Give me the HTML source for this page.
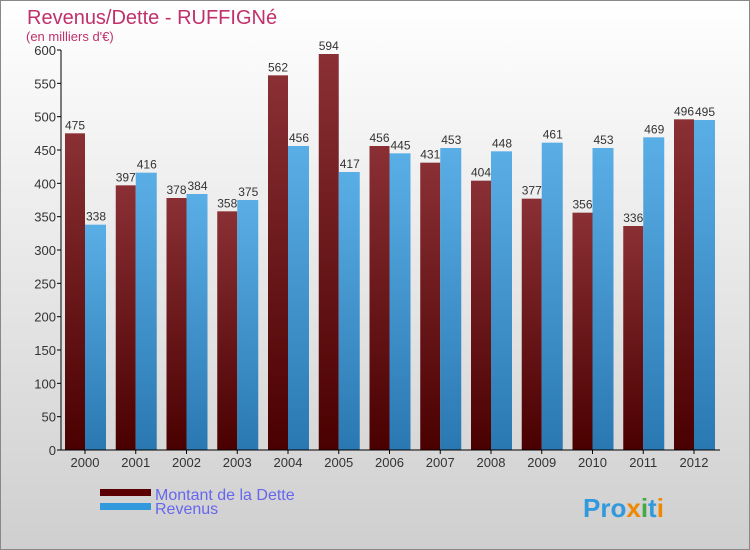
<!DOCTYPE html>
<html><head><meta charset="utf-8"><style>
body{margin:0}
#c{position:relative;width:750px;height:550px;overflow:hidden;font-family:"Liberation Sans",sans-serif}
</style></head><body>
<div id="c">
<svg id="s" width="750" height="550" xmlns="http://www.w3.org/2000/svg">
<defs>
<linearGradient id="bg" x1="0" y1="0" x2="0" y2="1"><stop offset="0" stop-color="#ffffff"/><stop offset="1" stop-color="#cfcfcf"/></linearGradient>
<linearGradient id="gd" x1="0" y1="0" x2="0" y2="1"><stop offset="0" stop-color="#8a3035"/><stop offset="1" stop-color="#4a0000"/></linearGradient>
<linearGradient id="gb" x1="0" y1="0" x2="0" y2="1"><stop offset="0" stop-color="#5aaee6"/><stop offset="1" stop-color="#2a78b2"/></linearGradient>
</defs>
<rect x="0.5" y="0.5" width="749" height="549" fill="url(#bg)" stroke="#888"/>
<text x="27" y="24" font-size="20" fill="#c0306a">Revenus/Dette - RUFFIGNé</text>
<text x="26" y="41" font-size="13" fill="#c0306a">(en milliers d'€)</text>
<g id="plot"></g>
<rect x="100" y="489" width="51" height="7" fill="#5a0000"/>
<text x="155" y="500" font-size="16" fill="#6666ee">Montant de la Dette</text>
<rect x="100" y="503" width="51" height="7" fill="#3399dd"/>
<text x="155" y="514" font-size="16" fill="#6666ee">Revenus</text>
<text x="583" y="517" font-size="26" font-weight="bold" fill="#3399dd">Pro<tspan fill="#ee8800">x</tspan><tspan fill="#44aa44">i</tspan>t<tspan fill="#ee8800">i</tspan></text>
</svg>
</div>
<script>
const years=["2000","2001","2002","2003","2004","2005","2006","2007","2008","2009","2010","2011","2012"];
const dette=[475,397,378,358,562,594,456,431,404,377,356,336,496];
const revenus=[338,416,384,375,456,417,445,453,448,461,453,469,495];
const yTicks=[0,50,100,150,200,250,300,350,400,450,500,550,600];
const NS="http://www.w3.org/2000/svg";
const g=document.getElementById('plot');
const y0=450,ky=400/600,x0=64,gw=50.75,bw=21;
const Y=v=>y0-v*ky;
const X=i=>x0+i*gw;
function mk(t,a,txt){const e=document.createElementNS(NS,t);for(const k in a)e.setAttribute(k,a[k]);if(txt!==undefined)e.textContent=txt;g.appendChild(e);return e;}
yTicks.forEach(v=>{
  const l=mk('line',{x1:57,x2:61,y1:Y(v),y2:Y(v),stroke:'#000'});
  
  
  const t=mk('text',{x:56,y:Y(v)+5,'font-size':13,fill:'#333','text-anchor':'end'},String(v));
  
  
});
years.forEach((yr,i)=>{
  const d=mk('rect',{x:X(i)+1,y:Y(dette[i]),width:bw-1,height:dette[i]*ky,fill:'url(#gd)'});
  
  
  const b=mk('rect',{x:X(i)+bw,y:Y(revenus[i]),width:bw,height:revenus[i]*ky,fill:'url(#gb)'});
  
  
  const t1=mk('text',{x:X(i)+11,y:Y(dette[i])-4,'font-size':12,fill:'#333','text-anchor':'middle'},String(dette[i]));
  
  
  const t2=mk('text',{x:X(i)+bw+11,y:Y(revenus[i])-4,'font-size':12,fill:'#333','text-anchor':'middle'},String(revenus[i]));
  
  
  const tk=mk('line',{x1:X(i)+bw,x2:X(i)+bw,y1:450,y2:454,stroke:'#000'});
  
  
  const xl=mk('text',{x:X(i)+bw,y:467,'font-size':13,fill:'#333','text-anchor':'middle'},yr);
  
  
});
const ya=mk('line',{x1:61,x2:61,y1:50,y2:450,stroke:'#000'});


const xa=mk('line',{x1:61,x2:720,y1:450,y2:450,stroke:'#000'});


</script>
</body></html>
